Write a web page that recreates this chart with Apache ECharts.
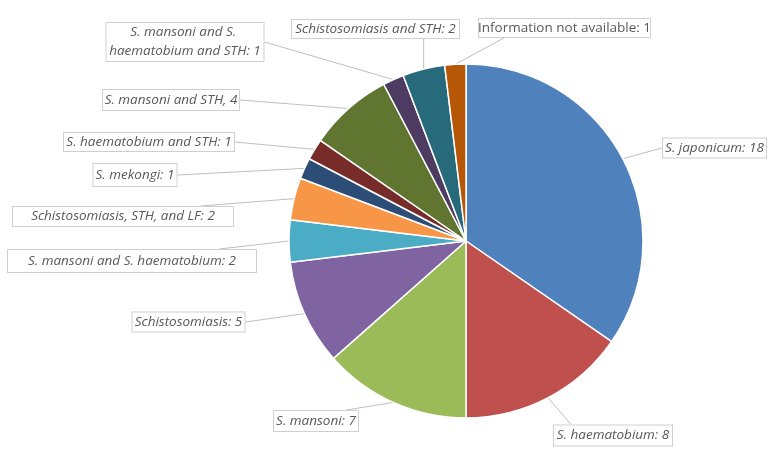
<!DOCTYPE html>
<html>
<head>
<meta charset="utf-8">
<script src="https://cdn.jsdelivr.net/npm/echarts@6/dist/echarts.min.js"></script>
<style>html,body{margin:0;padding:0;background:#fff}#c{width:780px;height:462px}</style>
</head>
<body>
<div id="c"></div>
<script>
const categories = [
  'S. japonicum', 'S. haematobium', 'S. mansoni', 'Schistosomiasis',
  'S. mansoni and S. haematobium', 'Schistosomiasis, STH, and LF', 'S. mekongi',
  'S. haematobium and STH', 'S. mansoni and STH', 'S. mansoni and S. haematobium and STH',
  'Schistosomiasis and STH', 'Information not available'
];
const values = [18, 8, 7, 5, 2, 2, 1, 1, 4, 1, 2, 1];
const separators = [': ', ': ', ': ', ': ', ': ', ': ', ': ', ': ', ', ', ': ', ': ', ': '];
const italicLabel = [true, true, true, true, true, true, true, true, true, true, true, false];
const colors = ['#4F81BD', '#C0504D', '#9BBB59', '#8064A2', '#4BACC6', '#F79646',
  '#2C4D75', '#772C2A', '#5F7530', '#4D3B62', '#276A7C', '#B65708'];

// label box layout (center x, center y) and (width, height) in pixels
const labelCenters = [[714.5,148],[613,435.5],[316,421],[188.5,322],[132,261],[123,216.5],
  [135,175],[149,142],[171,100],[185,42],[375.5,29],[564.5,28]];
const labelBoxes = [[105,21],[120,22],[86,22],[114,21],[250,24],[222,21],
  [85,24],[172,20],[138,22],[159,40],[169,20],[173,20]];

const chart = echarts.init(document.getElementById('c'));
const data = categories.map((name, i) => ({
  name: name,
  value: values[i],
  itemStyle: { color: colors[i] },
  label: {
    fontStyle: italicLabel[i] ? 'italic' : 'normal',
    width: labelBoxes[i][0] - 2,
    height: labelBoxes[i][1] - 2,
    lineHeight: i === 9 ? 19 : labelBoxes[i][1] - 2,
    overflow: i === 9 ? 'break' : 'none'
  }
}));

chart.setOption({
  animation: false,
  series: [{
    type: 'pie',
    center: [466, 241],
    radius: 177,
    startAngle: 90,
    clockwise: true,
    avoidLabelOverlap: false,
    data: data,
    itemStyle: { borderColor: '#ffffff', borderWidth: 1.5 },
    label: {
      show: true,
      position: 'outside',
      formatter: p => p.name + separators[p.dataIndex] + p.value,
      fontFamily: 'Open Sans',
      fontSize: 13.5,
      color: '#595959',
      backgroundColor: '#ffffff',
      borderColor: '#d0d0d0',
      borderWidth: 1,
      padding: 0,
      align: 'center',
      verticalAlign: 'middle'
    },
    labelLine: { show: true, length: 10, length2: 10, lineStyle: { color: '#bfbfbf', width: 1 } },
    labelLayout: function (params) {
      const i = params.dataIndex;
      const c = labelCenters[i], s = labelBoxes[i];
      const rx = c[0] - s[0] / 2, ry = c[1] - s[1] / 2, rw = s[0], rh = s[1];
      const p = params.labelLinePoints[0];
      let end;
      const gap = p[0] < rx ? rx - p[0] : (p[0] > rx + rw ? p[0] - rx - rw : 0);
      const within = p[1] >= ry - 6 && p[1] <= ry + rh + 6;
      if (within || gap > 80) {
        end = [p[0] < c[0] ? rx : rx + rw, c[1]];
      } else {
        const x = Math.min(Math.max(p[0], rx + rw * 0.15), rx + rw * 0.85);
        end = [x, p[1] < c[1] ? ry : ry + rh];
      }
      return {
        x: c[0], y: c[1], align: 'center', verticalAlign: 'middle',
        labelLinePoints: [[p[0], p[1]], [(p[0] + end[0]) / 2, (p[1] + end[1]) / 2], end]
      };
    }
  }]
});
</script>
</body>
</html>
